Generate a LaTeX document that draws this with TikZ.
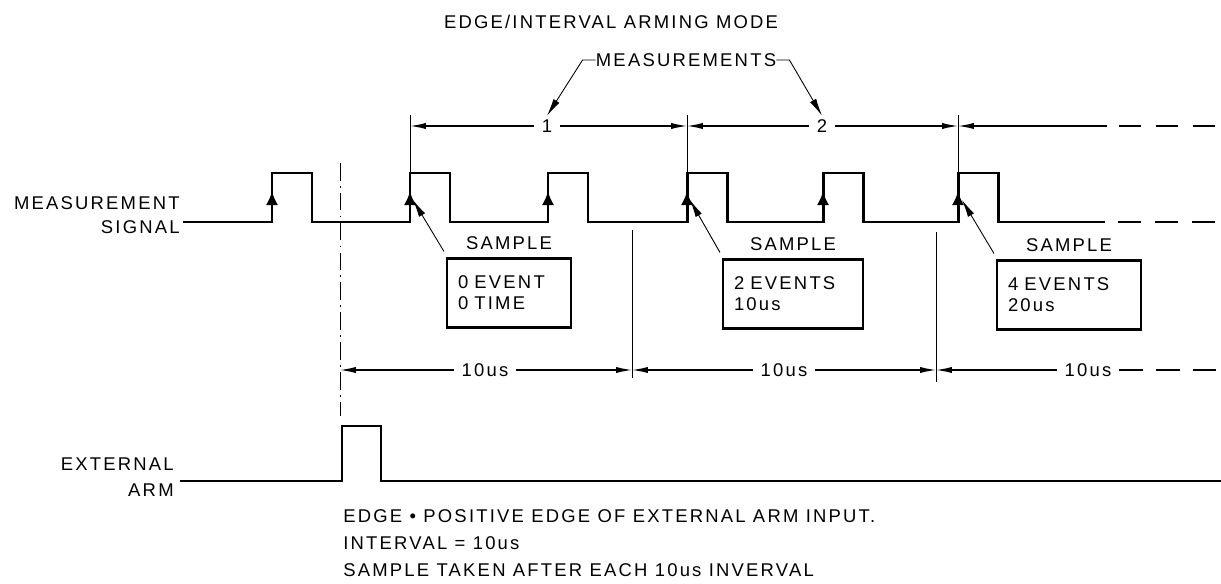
\documentclass[tikz,border=0pt]{standalone}
\usepackage{fontspec}
\setmainfont{Liberation Sans}[LetterSpace=12]
\usetikzlibrary{arrows.meta,positioning}
\begin{document}
\begin{tikzpicture}[x=0.02cm,y=-0.02cm,
  every node/.style={font=\fontsize{10.5}{12}\selectfont,inner sep=0pt},
  sig/.style={line width=1.7pt},
  guide/.style={line width=0.5pt},
  centre/.style={line width=0.5pt,dash pattern=on 10pt off 3pt on 1pt off 3pt},
  dim/.style={line width=0.8pt,-{Latex[length=9pt,width=3.5pt]}},
  lead/.style={line width=0.5pt,-{Latex[length=10pt,width=4pt]}},
  edgearrow/.style={line width=1.7pt,-{Latex[length=8pt,width=7pt]}},
  lab/.style={inner xsep=4pt},
  boxnode/.style={draw,line width=1.2pt,align=left,minimum height=1.38cm,inner xsep=0.22cm}]
\useasboundingbox (0,0) rectangle (1221,584);
% Titles
\node (title) at (611,22) {EDGE/INTERVAL ARMING MODE};
\node (meas) at (686,60) {MEASUREMENTS};
% Measurement signal
\node[anchor=east,align=right,font=\fontsize{10.5}{14}\selectfont] (msig) at (180,215) {MEASUREMENT\\SIGNAL};
\draw[sig] (183,222) foreach \x in {272,410,548,687,823,958} { -- (\x,222) -- (\x,173) -- (\x+40,173) -- (\x+40,222) } -- (1105,222);
\draw[sig,dash pattern=on 13pt off 8pt] (1118,222) -- (1221,222);
\foreach \x in {272,410,548,687,823,958}
  \draw[edgearrow] (\x,216) -- (\x,191);
% Guide lines
\draw[centre] (340,163) -- (340,416);
\foreach \x in {410,687,958}
  \draw[guide] (\x,115) -- (\x,173);
\draw[guide] (632,230) -- (632,378);
\draw[guide] (936,232) -- (936,382);
% Measurements
\coordinate (mA) at (410,126);
\coordinate (mC) at (687,126);
\coordinate (mE) at (958,126);
\coordinate (mEnd) at (1107,126);
\node[lab] (one) at (547,126) {1};
\node[lab] (two) at (822,126) {2};
\draw[dim] (one) -- (mA);
\draw[dim] (one) -- (mC);
\draw[dim] (two) -- (mC);
\draw[dim] (two) -- (mE);
\draw[dim] (mEnd) -- (mE);
\draw[guide,line width=0.8pt,dash pattern=on 12.5pt off 8.5pt] (1119,126) -- (1221,126);
\draw[lead] (meas.west) -- ++(-13,0) -- ([yshift=2pt]one.north);
\draw[lead] (meas.east) -- ++(13,0) -- ([yshift=2pt]two.north);
% Samples
\node[boxnode,text width=2.04cm] (box1) at (509,293) {0 EVENT\\0 TIME};
\node[boxnode,text width=2.36cm] (box2) at (793,294) {2 EVENTS\\10us};
\node[boxnode,text width=2.44cm] (box3) at (1069,295) {4 EVENTS\\20us};
\node[above=4pt of box1] (s1) {SAMPLE};
\node[above=4pt of box2] (s2) {SAMPLE};
\node[above=4pt of box3] (s3) {SAMPLE};
\coordinate (eA) at (413,200);
\coordinate (eC) at (690,200);
\coordinate (eE) at (962,200);
\draw[lead] ([shift={(-2,-6)}]box1.north west) -- (eA);
\draw[lead] ([shift={(-2,-6)}]box2.north west) -- (eC);
\draw[lead] ([shift={(-2,-6)}]box3.north west) -- (eE);
% Intervals
\coordinate (d0) at (340,370);
\coordinate (d1) at (632,370);
\coordinate (d2) at (936,370);
\node[lab] (t1) at (485,370) {10us};
\node[lab] (t2) at (784,370) {10us};
\node[lab] (t3) at (1088,370) {10us};
\draw[dim] (t1) -- (d0);
\draw[dim] (t1) -- (d1);
\draw[dim] (t2) -- (d1);
\draw[dim] (t2) -- (d2);
\draw[dim] (t3) -- (d2);
\draw[guide,line width=0.8pt,dash pattern=on 13.6pt off 7.4pt] (t3.east) -- (1221,370);
% External arm
\node[anchor=east,align=right,font=\fontsize{10.5}{14.8}\selectfont] (earm) at (174,477) {EXTERNAL\\ARM};
\draw[sig] (180,481) -- (342,481) -- (342,426) -- (381,426) -- (381,481) -- (1221,481);
% Notes
\node[anchor=west,align=left,font=\fontsize{10.5}{15.3}\selectfont] (notes) at (343,543) {EDGE \textbullet{} POSITIVE EDGE OF EXTERNAL ARM INPUT.\\INTERVAL = 10us\\SAMPLE TAKEN AFTER EACH 10us INVERVAL};
\end{tikzpicture}
\end{document}
